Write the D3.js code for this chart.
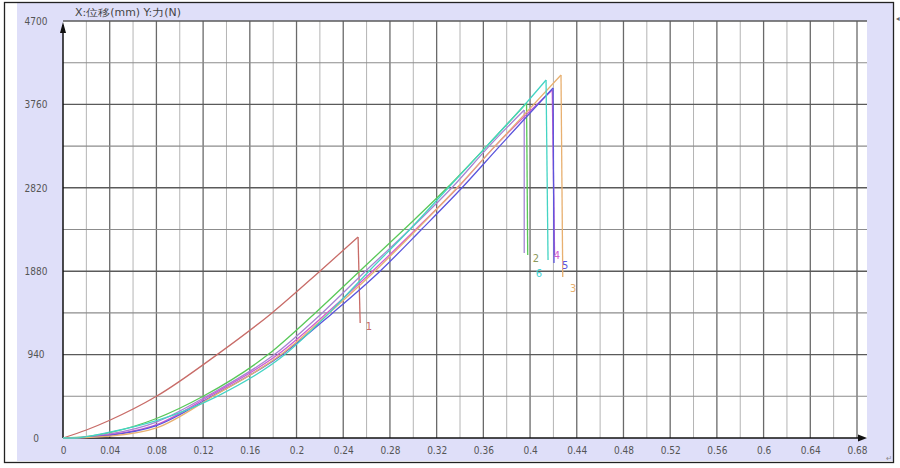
<!DOCTYPE html>
<html><head><meta charset="utf-8">
<script src="https://cdn.jsdelivr.net/npm/d3@7"></script>
<style>
html,body{margin:0;padding:0;background:#fff;}
svg{display:block;}
text{font-family:"Liberation Sans Narrow","DejaVu Sans Condensed","Liberation Sans",sans-serif;}
</style></head>
<body>
<svg id="c" width="900" height="468"></svg>
<script>
// ---- data ----
const xTickValues = [0,0.04,0.08,0.12,0.16,0.2,0.24,0.28,0.32,0.36,0.4,0.44,0.48,0.52,0.56,0.6,0.64,0.68];
const xTickLabels = ["0","0.04","0.08","0.12","0.16","0.2","0.24","0.28","0.32","0.36","0.4","0.44","0.48","0.52","0.56","0.6","0.64","0.68"];
const yTickValues = [0,940,1880,2820,3760,4700];
const yTickLabels = ["0","940","1880","2820","3760","4700"];
const titleText = "X:位移(mm)  Y:力(N)";

const seriesNames = ["1","2","7","4","5","3","6"];
const seriesColors = ["#c86c68","#58c858","#a684d4","#d05cd0","#5a54dc","#e8b070","#44d4c4"];
// rising branch [displacement mm, force N]
const rise1 = [[0,0],[0.02,90],[0.04,200],[0.08,470],[0.132,940],[0.179,1410],[0.22,1880],[0.2527,2265]];
const rise2 = [[0,0],[0.02,15],[0.04,60],[0.08,220],[0.12,470],[0.1756,940],[0.216,1410],[0.254,1880],[0.292,2350],[0.329,2820],[0.363,3290],[0.397,3776]];
const rise7 = [[0,0],[0.02,10],[0.04,45],[0.08,180],[0.123,470],[0.181,940],[0.222,1410],[0.259,1880],[0.297,2350],[0.333,2820],[0.365,3290],[0.395,3697]];
const rise4 = [[0,0],[0.02,8],[0.04,35],[0.08,150],[0.125,470],[0.184,940],[0.226,1410],[0.265,1880],[0.302,2350],[0.338,2820],[0.370,3290],[0.419,3922]];
const rise5 = [[0,0],[0.02,6],[0.04,30],[0.08,140],[0.1276,470],[0.1876,940],[0.231,1410],[0.2715,1880],[0.307,2350],[0.3417,2820],[0.374,3290],[0.4197,3945]];
const rise3 = [[0,0],[0.02,4],[0.04,20],[0.08,113],[0.1285,470],[0.1867,940],[0.228,1410],[0.267,1880],[0.303,2350],[0.3375,2820],[0.370,3290],[0.4265,4091]];
const rise6 = [[0,0],[0.01,0],[0.02,15],[0.04,65],[0.08,195],[0.132,470],[0.19,940],[0.228,1410],[0.262,1880],[0.297,2350],[0.330,2820],[0.363,3290],[0.3957,3760],[0.4137,4035]];
// fracture drop end point
const drop1 = [0.2545,1296];
const drop2 = [0.398,2063];
const drop7 = [0.395,2085];
const drop4 = [0.421,2063];
const drop5 = [0.4205,1972];
const drop3 = [0.428,1815];
const drop6 = [0.4154,2006];
// curve label positions [x mm, force N]
const labelPos1 = [0.262,1220];
const labelPos2 = [0.405,1980];
const labelPos7 = [0.4075,1820];
const labelPos4 = [0.423,2020];
const labelPos5 = [0.43,1900];
const labelPos3 = [0.437,1640];

const rises = [rise1,rise2,rise7,rise4,rise5,rise3,rise6];
const drops = [drop1,drop2,drop7,drop4,drop5,drop3,drop6];

// ---- drawing ----
const svg = d3.select("#c");
const W = 900, H = 468;
const L = 63, R = 857, T = 21, B = 438, RE = 867;

const x = d3.scaleLinear().domain([0,0.68]).range([L,R]);
const y = d3.scaleLinear().domain([0,4700]).range([B,T]);

// background frame
svg.append("rect").attr("x",0).attr("y",0).attr("width",W).attr("height",H).attr("fill","#fff");
svg.append("rect").attr("x",17).attr("y",3).attr("width",876).attr("height",458).attr("fill","#dfdff9");
svg.append("rect").attr("x",4.5).attr("y",2.5).attr("width",889).attr("height",460)
  .attr("fill","none").attr("stroke","#222").attr("stroke-width",1.3);
svg.append("rect").attr("x",L).attr("y",T).attr("width",RE-L).attr("height",B-T).attr("fill","#fff");

// grid
const g = svg.append("g");
const vLines = d3.range(1,35).map(i => i*0.02);
vLines.forEach((v,i) => {
  const major = (i % 2) === 1;
  g.append("line").attr("x1",x(v)).attr("x2",x(v)).attr("y1",T).attr("y2",B)
    .attr("stroke", major ? "#6a6a6a" : "#b4b4b4").attr("stroke-width", major ? 1.3 : 1);
});
const hLines = d3.range(1,11).map(i => i*470);
hLines.forEach((v,i) => {
  const major = (i % 2) === 1;
  g.append("line").attr("x1",L).attr("x2",RE).attr("y1",y(v)).attr("y2",y(v))
    .attr("stroke", major ? "#5a5a5a" : "#8c8c8c").attr("stroke-width", major ? 1.4 : 1.1);
});

// axes labels via d3 axes
const xAxis = d3.axisBottom(x).tickValues(xTickValues).tickSize(0).tickPadding(9)
  .tickFormat((d,i) => xTickLabels[i]);
const gx = svg.append("g").attr("transform",`translate(0,${B})`).call(xAxis);
gx.select(".domain").remove();
gx.selectAll("text").attr("fill","#555").attr("font-size",10)
  .attr("font-family","'Liberation Sans Narrow','DejaVu Sans Condensed',sans-serif");

const yAxis = d3.axisLeft(y).tickValues(yTickValues).tickSize(0)
  .tickFormat((d,i) => yTickLabels[i]);
const gy = svg.append("g").attr("transform",`translate(${L},0)`).call(yAxis);
gy.select(".domain").remove();
gy.selectAll("text").attr("x",-27).attr("text-anchor","middle").attr("fill","#555").attr("font-size",10)
  .attr("font-family","'Liberation Sans Narrow','DejaVu Sans Condensed',sans-serif");

// axis lines with arrows
svg.append("line").attr("x1",L).attr("x2",L).attr("y1",B).attr("y2",T+4).attr("stroke","#111").attr("stroke-width",1.5);
svg.append("path").attr("d",`M${L-3},${T+12} L${L},${T+1} L${L+3},${T+12} Z`).attr("fill","#111");
svg.append("line").attr("x1",L).attr("x2",862).attr("y1",B).attr("y2",B).attr("stroke","#111").attr("stroke-width",1.5);
svg.append("path").attr("d",`M${858},${B-3.5} L${867},${B} L${858},${B+3.5} Z`).attr("fill","#111");

// title
svg.append("text").attr("x",75).attr("y",16).attr("font-size",10).attr("fill","#444")
  .attr("font-family","'Noto Sans CJK SC',sans-serif")
  .attr("textLength",106).attr("lengthAdjust","spacingAndGlyphs").text(titleText);

// curves
const lineRise = d3.line().x(d => x(d[0])).y(d => y(d[1])).curve(d3.curveMonotoneX);
const lineStraight = d3.line().x(d => x(d[0])).y(d => y(d[1]));
const cg = svg.append("g").attr("fill","none");
rises.forEach((r,i) => {
  cg.append("path").attr("d", lineRise(r)).attr("stroke", seriesColors[i]).attr("stroke-width",1.3);
  cg.append("path").attr("d", lineStraight([r[r.length-1], drops[i]])).attr("stroke", seriesColors[i]).attr("stroke-width",1.3);
});

// curve labels
const labels = [
  ["1", labelPos1, seriesColors[0]],
  ["2", labelPos2, "#8c9a5c"],
  ["6", labelPos7, "#44d4d4"],
  ["4", labelPos4, seriesColors[3]],
  ["5", labelPos5, seriesColors[4]],
  ["3", labelPos3, seriesColors[5]]
];
labels.forEach(l => {
  svg.append("text").attr("x",x(l[1][0])).attr("y",y(l[1][1])).attr("font-size",11)
    .attr("text-anchor","middle").attr("fill",l[2])
    .attr("font-family","'Liberation Sans Narrow','DejaVu Sans Condensed',sans-serif").text(l[0]);
});

// document marks
svg.append("text").attr("x",896).attr("y",21).attr("font-size",8).attr("fill","#666").text("◂");
svg.append("text").attr("x",886).attr("y",461).attr("font-size",8).attr("fill","#888").text("↵");
</script>
</body></html>
